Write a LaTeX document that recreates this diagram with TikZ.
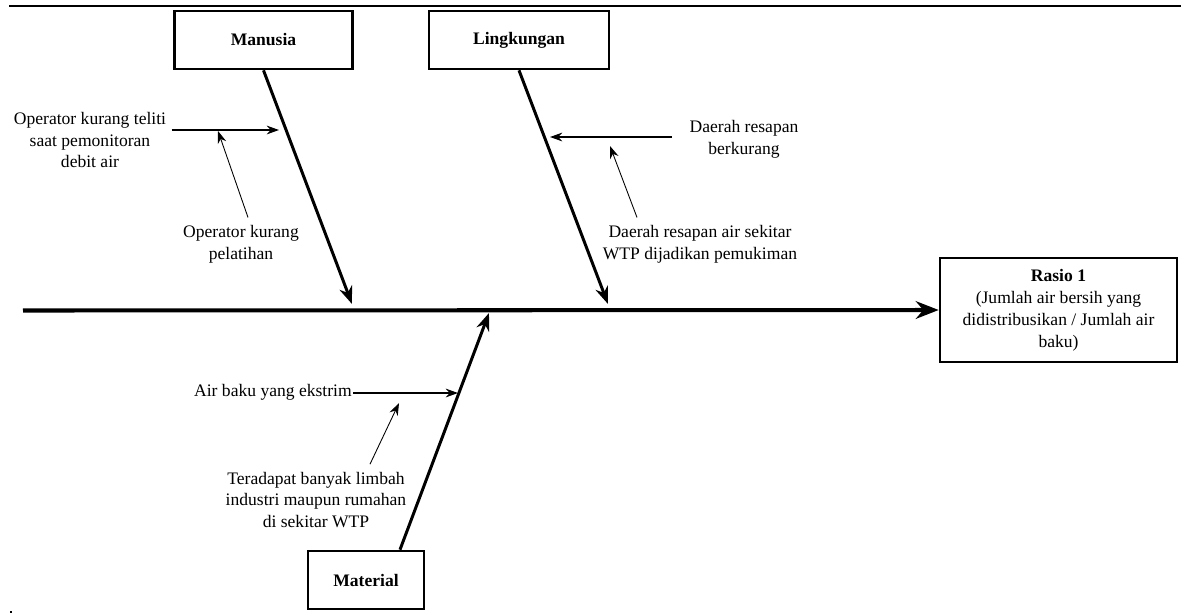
\documentclass[tikz,border=0pt]{standalone}
\usepackage{fontspec}
\setmainfont{Liberation Serif}
\usetikzlibrary{
  calc
  , arrows.meta
}

\tikzset{
  category/.style={draw=black, line width=1.5pt, minimum height=1.16cm, inner sep=2pt},
  spine/.style={line width=2.3pt, -{Stealth[length=13pt, width=10pt]}},
  bone/.style={line width=1.7pt, -{Stealth[length=10pt, width=7.5pt]}},
  cause/.style={line width=0.7pt, -{Stealth[length=7pt, width=5pt]}},
  subcause/.style={line width=0.5pt, -{Stealth[length=7pt, width=5pt]}},
  causetext/.style={align=center, inner sep=3pt}
}

\begin{document}
\begin{tikzpicture}[x=0.02cm, y=-0.02cm, font=\fontsize{10}{12.5}\selectfont]
  \useasboundingbox (0,0) rectangle (1181,613);
  \draw [line width=1.2pt] (9,6) -- (1181,6);
  \draw [line width=0.8pt] (10,612) -- (12,612);

  % categories and effect
  \node [category, minimum width=3.56cm] (manusia) at (263.5,40) {\textbf{Manusia}};
  \node [category, minimum width=3.6cm] (lingkungan) at (519,40) {\textbf{Lingkungan}};
  \node [category, minimum width=2.32cm] (material) at (366,580) {\textbf{Material}};
  \node [category,
    minimum width=4.74cm,
    minimum height=2.08cm,
    align=center] (rasio) at (1058.5,310)
    {\textbf{Rasio 1}\\(Jumlah air bersih yang\\didistribusikan / Jumlah air\\baku)};

  \coordinate (head) at (23,310.5);
  \draw [spine] (head) -- (rasio.west);

  \coordinate (manusiaTip) at (352,304);
  \coordinate (lingkunganTip) at (608,304);
  \coordinate (materialTip) at (489,313);
  \draw [bone] (manusia.south) -- (manusiaTip);
  \draw [bone] (lingkungan.south) -- (lingkunganTip);
  \draw [bone] ($(material.north)+(34,0)$) -- (materialTip);

  % Manusia
  \node [causetext] (teliti) at (90,140)
    {Operator kurang teliti\\saat pemonitoran\\debit air};
  \node [causetext] (pelatihan) at (241,244) {Operator kurang\\pelatihan};
  \coordinate (onManusia) at (279,130);
  \coordinate (onTeliti) at (218,131);
  \draw [cause] (teliti.east |- onManusia) -- (onManusia);
  \draw [subcause] ($(pelatihan.north)+(7,-2)$) -- (onTeliti);

  % Lingkungan
  \node [causetext] (berkurang) at (744,139) {Daerah resapan\\berkurang};
  \node [causetext] (pemukiman) at (700,244)
    {Daerah resapan air sekitar\\WTP dijadikan pemukiman};
  \coordinate (onLingkungan) at (550,137);
  \coordinate (onBerkurang) at (610,146);
  \draw [cause] ($(berkurang.west |- onLingkungan)+(-12,0)$) -- (onLingkungan);
  \draw [subcause] ($(pemukiman.north)+(-63,-2)$) -- (onBerkurang);

  % Material
  \node [causetext, anchor=east, inner sep=0.5pt] (ekstrim) at (353,392) {Air baku yang ekstrim};
  \node [causetext] (limbah) at (316,500)
    {Teradapat banyak limbah\\industri maupun rumahan\\di sekitar WTP};
  \coordinate (onMaterial) at (458,393);
  \coordinate (onEkstrim) at (399,403);
  \draw [cause] (ekstrim.east |- onMaterial) -- (onMaterial);
  \draw [subcause] ($(limbah.north)+(54,-2)$) -- (onEkstrim);
\end{tikzpicture}
\end{document}
